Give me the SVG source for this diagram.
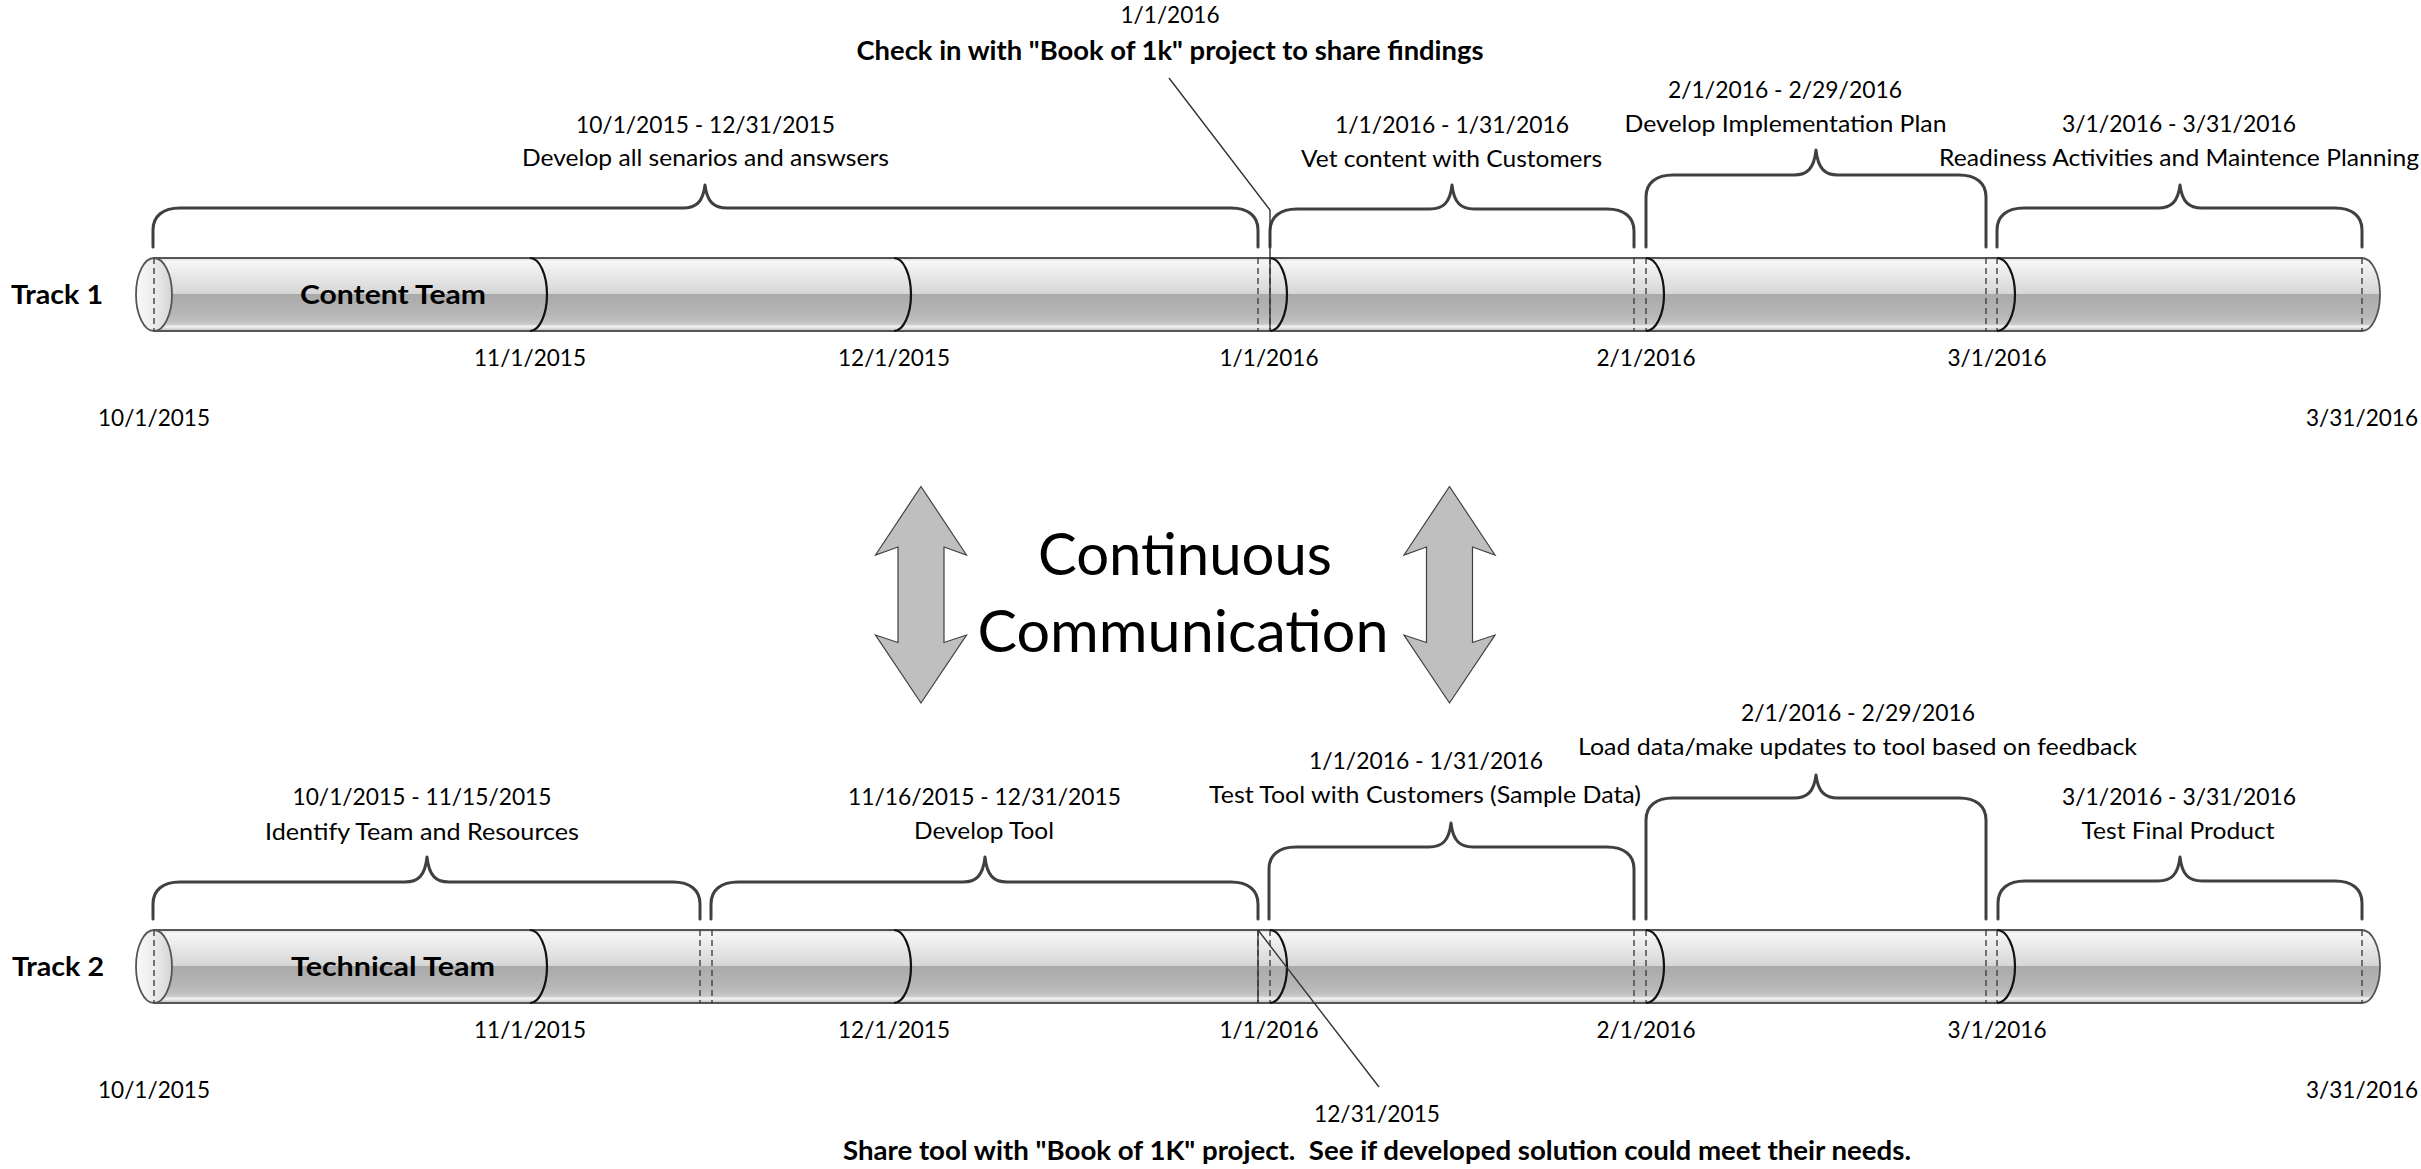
<svg xmlns="http://www.w3.org/2000/svg" xmlns:xlink="http://www.w3.org/1999/xlink" width="2421" height="1169" viewBox="0 0 2421 1169">
<defs>
<linearGradient id="bodyGrad" x1="0" y1="0" x2="0" y2="1">
<stop offset="0" stop-color="#d0d0d0"/>
<stop offset="0.04" stop-color="#f7f7f7"/>
<stop offset="0.2" stop-color="#ebebeb"/>
<stop offset="0.49" stop-color="#d6d6d6"/>
<stop offset="0.5" stop-color="#aaaaaa"/>
<stop offset="0.8" stop-color="#b8b8b8"/>
<stop offset="0.9" stop-color="#c6c6c6"/>
<stop offset="0.94" stop-color="#f4f4f4"/>
<stop offset="0.97" stop-color="#d8d8d8"/>
<stop offset="1" stop-color="#bbbbbb"/>
</linearGradient>
<linearGradient id="capGrad" x1="0" y1="0" x2="1" y2="0">
<stop offset="0" stop-color="#fafafa"/>
<stop offset="0.6" stop-color="#e8e8e8"/>
<stop offset="1" stop-color="#d4d4d4"/>
</linearGradient>
<g id="cyl">
<path d="M154,258 H2362 A18,36.5 0 0 1 2362,331 H154 Z" fill="url(#bodyGrad)"/>
<path class="edge" d="M154,258 H2362 A18,36.5 0 0 1 2362,331 H154"/>
<ellipse cx="154" cy="294.5" rx="18" ry="36.5" fill="url(#capGrad)" class="edge"/>
<line class="dash" x1="154" y1="258" x2="154" y2="331"/>
<line class="dash" x1="2362" y1="258" x2="2362" y2="331"/>
<path class="arc" d="M530,258 A17,36.5 0 0 1 530,331"/>
<path class="arc" d="M894,258 A17,36.5 0 0 1 894,331"/>
<line class="dash" x1="1258" y1="258" x2="1258" y2="331"/>
<line class="dash" x1="1270" y1="258" x2="1270" y2="331"/>
<path class="arc" d="M1270,258 A17,36.5 0 0 1 1270,331"/>
<line class="dash" x1="1634" y1="258" x2="1634" y2="331"/>
<line class="dash" x1="1646" y1="258" x2="1646" y2="331"/>
<path class="arc" d="M1646,258 A18,36.5 0 0 1 1646,331"/>
<line class="dash" x1="1986" y1="258" x2="1986" y2="331"/>
<line class="dash" x1="1997" y1="258" x2="1997" y2="331"/>
<path class="arc" d="M1997,258 A18,36.5 0 0 1 1997,331"/>
</g>
</defs>
<style>
.t { font-family: Lato, 'Open Sans', 'Liberation Sans', sans-serif; font-size: 23.5px; fill: #000; text-anchor: middle; }
.b { font-weight: bold; font-size: 27px; }
.big { font-size: 58px; }
.pre { white-space: pre; }
.brace { fill: none; stroke: #404040; stroke-width: 3; stroke-linecap: round; stroke-linejoin: round; }
.dash { fill: none; stroke: #404040; stroke-width: 1.4; stroke-dasharray: 6 4; }
.arc { fill: none; stroke: #111; stroke-width: 2.2; }
.edge { stroke: #555; stroke-width: 1.8; }
path.edge { fill: none; }
.callout { fill: none; stroke: #333; stroke-width: 1.4; }
.dbl { fill: #bfbfbf; stroke: #404040; stroke-width: 1.2; stroke-linejoin: miter; }
</style>
<rect width="2421" height="1169" fill="#ffffff"/>

<g id="track1">
<use xlink:href="#cyl" href="#cyl"/>
<text class="t b" x="57" y="304" textLength="92" lengthAdjust="spacingAndGlyphs">Track 1</text>
<text class="t b" x="393" y="304" textLength="186" lengthAdjust="spacingAndGlyphs">Content Team</text>
<text class="t" x="530" y="366" textLength="112" lengthAdjust="spacingAndGlyphs">11/1/2015</text>
<text class="t" x="894" y="366" textLength="112" lengthAdjust="spacingAndGlyphs">12/1/2015</text>
<text class="t" x="1269" y="366" textLength="99" lengthAdjust="spacingAndGlyphs">1/1/2016</text>
<text class="t" x="1646" y="366" textLength="99" lengthAdjust="spacingAndGlyphs">2/1/2016</text>
<text class="t" x="1997" y="366" textLength="99" lengthAdjust="spacingAndGlyphs">3/1/2016</text>
<text class="t" x="154" y="426" textLength="112" lengthAdjust="spacingAndGlyphs">10/1/2015</text>
<text class="t" x="2362" y="426" textLength="112" lengthAdjust="spacingAndGlyphs">3/31/2016</text>
</g>

<g id="t1-interval1">
<path class="brace" d="M153,247 V230 C153,216 163,208 180,208 H683 C696,208 703,202 705,185 C707,202 714,208 727,208 H1231 C1248,208 1258,216 1258,230 V247"/>
<text class="t" x="705.5" y="133" textLength="259" lengthAdjust="spacingAndGlyphs">10/1/2015 - 12/31/2015</text>
<text class="t" x="705.5" y="166" textLength="367" lengthAdjust="spacingAndGlyphs">Develop all senarios and answsers</text>
</g>
<g id="t1-interval2">
<path class="brace" d="M1270,247 V231 C1270,217 1280,209 1297,209 H1430 C1443,209 1450,203 1452,185 C1454,203 1461,209 1474,209 H1607 C1624,209 1634,217 1634,231 V247"/>
<text class="t" x="1452" y="133" textLength="234" lengthAdjust="spacingAndGlyphs">1/1/2016 - 1/31/2016</text>
<text class="t" x="1451.5" y="167" textLength="301" lengthAdjust="spacingAndGlyphs">Vet content with Customers</text>
</g>
<g id="t1-interval3">
<path class="brace" d="M1646,247 V197 C1646,183 1656,175 1673,175 H1794 C1807,175 1814,169 1816,150 C1818,169 1825,175 1838,175 H1959 C1976,175 1986,183 1986,197 V247"/>
<text class="t" x="1785" y="98" textLength="234" lengthAdjust="spacingAndGlyphs">2/1/2016 - 2/29/2016</text>
<text class="t" x="1785.5" y="132" textLength="322" lengthAdjust="spacingAndGlyphs">Develop Implementation Plan</text>
</g>
<g id="t1-interval4">
<path class="brace" d="M1997,247 V230 C1997,216 2007,208 2024,208 H2158 C2171,208 2178,202 2180,185 C2182,202 2189,208 2202,208 H2335 C2352,208 2362,216 2362,230 V247"/>
<text class="t" x="2179" y="132" textLength="234" lengthAdjust="spacingAndGlyphs">3/1/2016 - 3/31/2016</text>
<text class="t" x="2179" y="166" textLength="480" lengthAdjust="spacingAndGlyphs">Readiness Activities and Maintence Planning</text>
</g>
<g id="t1-milestone">
<text class="t" x="1170" y="23" textLength="99" lengthAdjust="spacingAndGlyphs">1/1/2016</text>
<text class="t b" x="1170" y="60" textLength="627" lengthAdjust="spacingAndGlyphs">Check in with "Book of 1k" project to share findings</text>
</g>

<g id="track2">
<g transform="translate(0,672)">
<use xlink:href="#cyl" href="#cyl"/>
<line class="dash" x1="700" y1="258" x2="700" y2="331"/>
<line class="dash" x1="712" y1="258" x2="712" y2="331"/>
</g>
<text class="t b" x="58" y="976" textLength="92" lengthAdjust="spacingAndGlyphs">Track 2</text>
<text class="t b" x="393" y="976" textLength="204" lengthAdjust="spacingAndGlyphs">Technical Team</text>
<text class="t" x="530" y="1038" textLength="112" lengthAdjust="spacingAndGlyphs">11/1/2015</text>
<text class="t" x="894" y="1038" textLength="112" lengthAdjust="spacingAndGlyphs">12/1/2015</text>
<text class="t" x="1269" y="1038" textLength="99" lengthAdjust="spacingAndGlyphs">1/1/2016</text>
<text class="t" x="1646" y="1038" textLength="99" lengthAdjust="spacingAndGlyphs">2/1/2016</text>
<text class="t" x="1997" y="1038" textLength="99" lengthAdjust="spacingAndGlyphs">3/1/2016</text>
<text class="t" x="154" y="1098" textLength="112" lengthAdjust="spacingAndGlyphs">10/1/2015</text>
<text class="t" x="2362" y="1098" textLength="112" lengthAdjust="spacingAndGlyphs">3/31/2016</text>
</g>

<g id="t2-interval1">
<path class="brace" d="M153,919 V904 C153,890 163,882 180,882 H405 C418,882 425,876 427,857 C429,876 436,882 449,882 H673 C690,882 700,890 700,904 V919"/>
<text class="t" x="422" y="805" textLength="259" lengthAdjust="spacingAndGlyphs">10/1/2015 - 11/15/2015</text>
<text class="t" x="422" y="840" textLength="314" lengthAdjust="spacingAndGlyphs">Identify Team and Resources</text>
</g>
<g id="t2-interval2">
<path class="brace" d="M711,919 V904 C711,890 721,882 738,882 H963 C976,882 983,876 985,857 C987,876 994,882 1007,882 H1231 C1248,882 1258,890 1258,904 V919"/>
<text class="t" x="984.5" y="805" textLength="273" lengthAdjust="spacingAndGlyphs">11/16/2015 - 12/31/2015</text>
<text class="t" x="984" y="839" textLength="140" lengthAdjust="spacingAndGlyphs">Develop Tool</text>
</g>
<g id="t2-interval3">
<path class="brace" d="M1269,919 V869 C1269,855 1279,847 1296,847 H1429 C1442,847 1449,841 1451,823 C1453,841 1460,847 1473,847 H1607 C1624,847 1634,855 1634,869 V919"/>
<text class="t" x="1426" y="769" textLength="234" lengthAdjust="spacingAndGlyphs">1/1/2016 - 1/31/2016</text>
<text class="t" x="1425" y="803" textLength="432" lengthAdjust="spacingAndGlyphs">Test Tool with Customers (Sample Data)</text>
</g>
<g id="t2-interval4">
<path class="brace" d="M1646,919 V820 C1646,806 1656,798 1673,798 H1794 C1807,798 1814,792 1816,775 C1818,792 1825,798 1838,798 H1959 C1976,798 1986,806 1986,820 V919"/>
<text class="t" x="1858" y="721" textLength="234" lengthAdjust="spacingAndGlyphs">2/1/2016 - 2/29/2016</text>
<text class="t" x="1857.5" y="755" textLength="559" lengthAdjust="spacingAndGlyphs">Load data/make updates to tool based on feedback</text>
</g>
<g id="t2-interval5">
<path class="brace" d="M1998,919 V903 C1998,889 2008,881 2025,881 H2158 C2171,881 2178,875 2180,857 C2182,875 2189,881 2202,881 H2335 C2352,881 2362,889 2362,903 V919"/>
<text class="t" x="2179" y="805" textLength="234" lengthAdjust="spacingAndGlyphs">3/1/2016 - 3/31/2016</text>
<text class="t" x="2178" y="839" textLength="193" lengthAdjust="spacingAndGlyphs">Test Final Product</text>
</g>
<g id="t2-milestone">
<text class="t" x="1377" y="1122" textLength="126" lengthAdjust="spacingAndGlyphs">12/31/2015</text>
<text class="t b pre" x="1377" y="1160" textLength="1068" lengthAdjust="spacingAndGlyphs">Share tool with "Book of 1K" project.  See if developed solution could meet their needs.</text>
</g>

<g id="communication">
<path class="dbl" d="M921,486.5 L966.5,555 L944,547 L944,642.5 L966.5,635 L921,703 L875.5,635 L898,642.5 L898,547 L875.5,555 Z"/>
<path class="dbl" d="M1449.5,486.5 L1495,555 L1472.5,547 L1472.5,642.5 L1495,635 L1449.5,703 L1404,635 L1426.5,642.5 L1426.5,547 L1404,555 Z"/>
<text class="t big" x="1185" y="575" textLength="294" lengthAdjust="spacingAndGlyphs">Continuous</text>
<text class="t big" x="1183" y="652" textLength="411" lengthAdjust="spacingAndGlyphs">Communication</text>
</g>

<g id="connectors">
<polyline class="callout" points="1169,78 1270,210 1270,331"/>
<line class="callout" x1="1258" y1="930" x2="1258" y2="1003"/>
<line class="callout" x1="1258" y1="930" x2="1379" y2="1087"/>
</g>
</svg>
